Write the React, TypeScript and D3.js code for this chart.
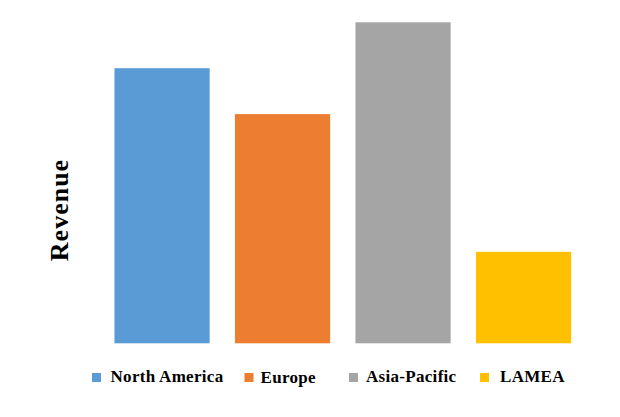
import React from "react";
import * as d3 from "d3";

const categories = ["North America", "Europe", "Asia-Pacific", "LAMEA"];
const revenue = [85.7, 71.4, 100, 28.5];
const colors = ["#5B9BD5", "#ED7D31", "#A5A5A5", "#FFC000"];
const yLabel = "Revenue";

const W = 620;
const H = 417;
const legendMarkerX = [92, 244.5, 349, 480];
const legendTextX = [110.5, 260.5, 366, 500];
const FONT = "'Liberation Serif', 'Times New Roman', serif";

export default function App() {
  const x = d3
    .scaleBand<string>()
    .domain(categories)
    .range([101.8, 583.8])
    .paddingInner(0.21)
    .paddingOuter(0.105);
  const y = d3.scaleLinear().domain([0, 100]).range([343.3, 22.3]);

  return (
    <svg
      width={W}
      height={H}
      style={{ position: "absolute", left: 0, top: 0, background: "#fff" }}
    >
      {categories.map((c, i) => (
        <rect
          key={c}
          x={x(c)}
          y={y(revenue[i])}
          width={x.bandwidth()}
          height={y(0) - y(revenue[i])}
          fill={colors[i]}
        />
      ))}
      <text
        transform={`translate(67.5,210) rotate(-90)`}
        textAnchor="middle"
        fontFamily={FONT}
        fontWeight="bold"
        fontSize={26}
        letterSpacing={1}
        fill="#000"
      >
        {yLabel}
      </text>
      {categories.map((c, i) => (
        <g key={c}>
          <rect x={legendMarkerX[i]} y={373} width={9} height={9} fill={colors[i]} />
          <text
            x={legendTextX[i]}
            y={382.3 + (c === "Europe" ? 1 : 0)}
            fontFamily={FONT}
            fontWeight="bold"
            fontSize={17}
            letterSpacing={0.3}
            fill="#000"
          >
            {c}
          </text>
        </g>
      ))}
    </svg>
  );
}
